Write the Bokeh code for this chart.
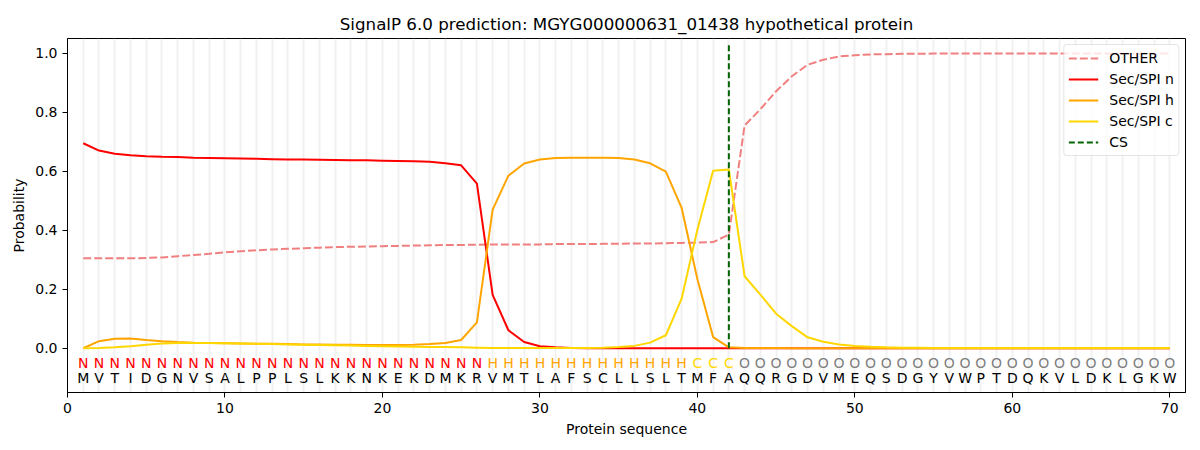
from bokeh.plotting import figure
from bokeh.models import ColumnDataSource, Range1d, FixedTicker, PrintfTickFormatter
from bokeh.core.properties import value
from bokeh.embed import file_html
from bokeh.resources import INLINE

sequence = list("MVTIDGNVSALPPLSLKKNKEKDMKRVMTLAFSCLLSLTMFAQQRGDVMEQSDGYVWPTDQKVLDKLGKW")
regions = list("N" * 26 + "H" * 13 + "C" * 3 + "O" * 28)
positions = list(range(1, len(sequence) + 1))

other = [0.305, 0.305, 0.305, 0.305, 0.306, 0.308, 0.312, 0.316, 0.320, 0.325,
         0.329, 0.332, 0.335, 0.337, 0.339, 0.341, 0.343, 0.344, 0.345, 0.346,
         0.347, 0.348, 0.349, 0.350, 0.350, 0.351, 0.352, 0.352, 0.352, 0.352,
         0.353, 0.353, 0.353, 0.354, 0.354, 0.355, 0.355, 0.356, 0.357, 0.358,
         0.360, 0.385, 0.755, 0.810, 0.871, 0.922, 0.961, 0.978, 0.989, 0.993,
         0.996, 0.997, 0.998, 0.998, 0.999, 0.999, 0.999, 0.999, 0.999, 0.999,
         0.999, 0.999, 0.999, 0.999, 0.999, 0.999, 0.999, 0.999, 0.999, 0.999]

sec_n = [0.695, 0.670, 0.659, 0.654, 0.651, 0.649, 0.648, 0.646, 0.645, 0.644,
         0.643, 0.642, 0.641, 0.640, 0.640, 0.639, 0.638, 0.637, 0.637, 0.636,
         0.635, 0.634, 0.632, 0.627, 0.620, 0.558, 0.181, 0.061, 0.021, 0.007,
         0.003, 0.001, 0.000, 0.000, 0.000, 0.000, 0.000, 0.000, 0.000, 0.000,
         0.000, 0.000, 0.000, 0.000, 0.000, 0.000, 0.000, 0.000, 0.000, 0.000,
         0.000, 0.000, 0.000, 0.000, 0.000, 0.000, 0.000, 0.000, 0.000, 0.000,
         0.000, 0.000, 0.000, 0.000, 0.000, 0.000, 0.000, 0.000, 0.000, 0.000]

sec_h = [0.000, 0.024, 0.032, 0.033, 0.028, 0.024, 0.021, 0.019, 0.018, 0.017,
         0.016, 0.015, 0.015, 0.014, 0.013, 0.013, 0.012, 0.012, 0.011, 0.011,
         0.011, 0.012, 0.014, 0.018, 0.028, 0.088, 0.470, 0.585, 0.626, 0.640,
         0.645, 0.646, 0.646, 0.646, 0.645, 0.640, 0.627, 0.599, 0.476, 0.235,
         0.038, 0.003, 0.001, 0.001, 0.001, 0.000, 0.000, 0.000, 0.000, 0.000,
         0.000, 0.000, 0.000, 0.000, 0.000, 0.000, 0.000, 0.000, 0.000, 0.000,
         0.000, 0.000, 0.000, 0.000, 0.000, 0.000, 0.000, 0.000, 0.000, 0.000]

sec_c = [0.000, 0.001, 0.003, 0.007, 0.012, 0.016, 0.018, 0.018, 0.018, 0.017,
         0.016, 0.015, 0.014, 0.013, 0.012, 0.011, 0.010, 0.009, 0.008, 0.007,
         0.006, 0.005, 0.004, 0.004, 0.003, 0.002, 0.001, 0.001, 0.001, 0.001,
         0.001, 0.001, 0.001, 0.002, 0.004, 0.008, 0.019, 0.044, 0.168, 0.402,
         0.602, 0.606, 0.244, 0.182, 0.117, 0.075, 0.037, 0.022, 0.013, 0.008,
         0.005, 0.003, 0.002, 0.002, 0.001, 0.001, 0.001, 0.001, 0.001, 0.001,
         0.001, 0.001, 0.001, 0.001, 0.001, 0.001, 0.001, 0.001, 0.001, 0.001]

cs_position = 42
x_ticks = [0, 10, 20, 30, 40, 50, 60, 70]
y_ticks = [0.0, 0.2, 0.4, 0.6, 0.8, 1.0]

region_colors = {"N": "red", "H": "orange", "C": "gold", "O": "gray"}

FONT = "DejaVu Sans"

p = figure(width=1192, height=442, output_backend="svg", toolbar_location=None,
           x_range=Range1d(0, 71), y_range=Range1d(-0.15, 1.05),
           title="SignalP 6.0 prediction: MGYG000000631_01438 hypothetical protein",
           min_border_left=67, min_border_right=7, min_border_top=38, min_border_bottom=50)

p.title.align = "center"
p.title.text_font = FONT
p.title.text_font_size = "16.7px"
p.title.text_font_style = "normal"
p.title.text_color = "black"

p.outline_line_color = "black"
p.outline_line_width = 1
p.outline_line_alpha = 1.0

p.ygrid.visible = False
p.xgrid.ticker = FixedTicker(ticks=positions)
p.xgrid.grid_line_color = "#e8e8e8"
p.xgrid.grid_line_alpha = 0.6
p.xgrid.grid_line_width = 2

for ax in (p.xaxis[0], p.yaxis[0]):
    ax.axis_line_color = "black"
    ax.major_tick_line_color = "black"
    ax.major_tick_out = 5
    ax.major_tick_in = 0
    ax.minor_tick_line_color = None
    ax.major_label_text_font = FONT
    ax.major_label_text_font_size = "14px"
    ax.major_label_text_color = "black"
    ax.axis_label_text_font = FONT
    ax.axis_label_text_font_size = "14px"
    ax.axis_label_text_font_style = "normal"
    ax.axis_label_text_color = "black"

p.xaxis.ticker = FixedTicker(ticks=x_ticks)
p.yaxis.ticker = FixedTicker(ticks=y_ticks)
p.yaxis.formatter = PrintfTickFormatter(format="%.1f")
p.xaxis.axis_label = "Protein sequence"
p.yaxis.axis_label = "Probability"

src = ColumnDataSource(data=dict(x=positions, other=other, n=sec_n, h=sec_h, c=sec_c))

p.line("x", "other", source=src, color="lightcoral", line_width=2, line_dash="8 3",
       legend_label="OTHER")
p.line("x", "n", source=src, color="red", line_width=2, legend_label="Sec/SPI n")
p.line("x", "h", source=src, color="orange", line_width=2, legend_label="Sec/SPI h")
p.line("x", "c", source=src, color="gold", line_width=2, legend_label="Sec/SPI c")
p.line(x=[cs_position, cs_position], y=[0, 1.035], color="darkgreen", line_width=2,
       line_dash="6 3", legend_label="CS")

lab_src = ColumnDataSource(data=dict(
    x=positions, reg=regions, aa=sequence,
    col=[region_colors[r] for r in regions]))
p.text(x="x", y=-0.05, text="reg", source=lab_src, text_color="col",
       text_font=value(FONT), text_font_size="14px", text_align="center",
       text_baseline="middle")
p.text(x="x", y=-0.10, text="aa", source=lab_src, text_color="black",
       text_font=value(FONT), text_font_size="14px", text_align="center",
       text_baseline="middle")

lg = p.legend[0]
lg.location = "top_right"
lg.margin = 6
lg.padding = 4
lg.spacing = 3
lg.glyph_width = 30
lg.glyph_height = 18
lg.label_height = 18
lg.label_standoff = 11
lg.label_text_font = FONT
lg.label_text_font_size = "14px"
lg.label_text_color = "black"
lg.border_line_color = "#cccccc"
lg.border_line_width = 1
lg.background_fill_alpha = 0.8
if "border_radius" in lg.properties():
    lg.border_radius = 4

open("out.html", "w").write(file_html(p, INLINE))
